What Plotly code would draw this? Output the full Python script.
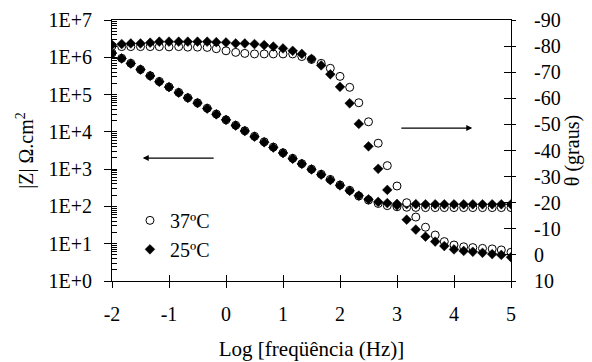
import plotly.graph_objects as go

# log10 of frequency (Hz)
log_freq = [-2.00, -1.83, -1.67, -1.50, -1.33, -1.17, -1.00, -0.83, -0.67, -0.50,
            -0.33, -0.17, 0.00, 0.17, 0.33, 0.50, 0.67, 0.83, 1.00, 1.17,
            1.33, 1.50, 1.67, 1.83, 2.00, 2.17, 2.33, 2.50, 2.67, 2.83,
            3.00, 3.17, 3.33, 3.50, 3.67, 3.83, 4.00, 4.17, 4.33, 4.50,
            4.67, 4.83, 5.00]

# |Z| (ohm.cm2)
z_37 = [1.30e6, 9.4e5, 6.9e5, 4.7e5, 3.2e5, 2.25e5, 1.6e5, 1.14e5, 8.2e4, 6.0e4,
        4.3e4, 3.0e4, 2.1e4, 1.5e4, 1.07e4, 7.6e3, 5.4e3, 3.9e3, 2.75e3, 1.95e3,
        1.4e3, 1.0e3, 730, 530, 375, 270, 190, 148, 120, 105,
        98, 95, 94, 93, 93, 93, 93, 93, 93, 93,
        93, 93, 93]
z_25 = [1.29e6, 9.3e5, 6.8e5, 4.7e5, 3.15e5, 2.2e5, 1.58e5, 1.12e5, 8.1e4, 5.9e4,
        4.2e4, 2.95e4, 2.1e4, 1.48e4, 1.05e4, 7.4e3, 5.25e3, 3.8e3, 2.7e3, 1.9e3,
        1.38e3, 980, 710, 510, 365, 263, 195, 155, 132, 123,
        117, 115, 115, 114, 114, 114, 114, 114, 114, 114,
        114, 114, 114]

# phase angle (degrees)
theta_37 = [-80.0, -79.8, -79.8, -79.8, -79.8, -79.8, -79.7, -79.8, -79.6, -79.6,
            -79.5, -79.0, -78.2, -77.6, -77.2, -77.0, -77.0, -77.0, -77.0, -77.0,
            -76.0, -74.9, -73.4, -71.5, -68.4, -64.2, -58.3, -51.0, -42.8, -34.2,
            -26.4, -20.0, -14.5, -10.6, -7.6, -5.1, -3.8, -3.1, -2.8, -2.5,
            -2.3, -1.9, -1.0]
theta_25 = [-80.5, -80.8, -81.0, -81.0, -81.3, -81.7, -81.7, -81.7, -81.7, -81.7,
            -81.7, -81.5, -81.4, -81.0, -81.0, -80.8, -80.4, -79.8, -79.1, -78.2,
            -77.0, -75.1, -72.6, -69.2, -64.4, -58.1, -50.2, -41.6, -33.0, -24.9,
            -19.0, -13.5, -9.7, -7.0, -5.1, -3.4, -2.1, -1.5, -1.2, -0.8,
            -0.3, 0.0, 0.9]

x_ticks = [-2, -1, 0, 1, 2, 3, 4, 5]
x_ticktext = ["-2", "-1", "0", "1", "2", "3", "4", "5"]
z_ticks = [1, 10, 100, 1e3, 1e4, 1e5, 1e6, 1e7]
z_ticktext = ["1E+0", "1E+1", "1E+2", "1E+3", "1E+4", "1E+5", "1E+6", "1E+7"]
th_ticks = [-90, -80, -70, -60, -50, -40, -30, -20, -10, 0, 10]
th_ticktext = ["-90", "-80", "-70", "-60", "-50", "-40", "-30", "-20", "-10", "0", "10"]
z_minor = [m * 10 ** e for e in range(7) for m in range(2, 10)]

FONT = "'Liberation Serif', 'Times New Roman', Times, serif"
FS = 20

circle = dict(symbol="circle", size=8, color="white", line=dict(color="black", width=1))
diamond = dict(symbol="diamond", size=7.5, color="black", line=dict(color="black", width=0.5))

fig = go.Figure()
fig.add_trace(go.Scatter(x=log_freq, y=z_37, mode="markers", marker=circle,
                         name="37ºC", legendgroup="a", showlegend=True, yaxis="y"))
fig.add_trace(go.Scatter(x=log_freq, y=theta_37, mode="markers", marker=circle,
                         name="37ºC", legendgroup="a", showlegend=False, yaxis="y2"))
fig.add_trace(go.Scatter(x=log_freq, y=z_25, mode="markers", marker=diamond,
                         name="25ºC", legendgroup="b", showlegend=True, yaxis="y"))
fig.add_trace(go.Scatter(x=log_freq, y=theta_25, mode="markers", marker=diamond,
                         name="25ºC", legendgroup="b", showlegend=False, yaxis="y2"))
# empty traces so the overlay tick axes get drawn
fig.add_trace(go.Scatter(x=[], y=[], xaxis="x2", yaxis="y3", showlegend=False))
fig.add_trace(go.Scatter(x=[], y=[], xaxis="x2", yaxis="y4", showlegend=False))

axis_common = dict(showgrid=False, zeroline=False, color="black", automargin=False,
                   tickfont=dict(family=FONT, size=FS, color="black"))

fig.update_layout(
    width=592, height=362,
    margin=dict(l=112, r=81, t=20, b=81),
    paper_bgcolor="white", plot_bgcolor="white",
    font=dict(family=FONT, size=FS, color="black"),
    xaxis=dict(range=[-2, 5], tickmode="array", tickvals=x_ticks, ticktext=x_ticktext,
               ticks="outside", ticklen=6, tickwidth=1, showline=True, linewidth=1,
               linecolor="black", mirror=True, ticklabelstandoff=9,
               title=dict(text="Log [freqüência (Hz)]", font=dict(family=FONT, size=21), standoff=17),
               **axis_common),
    xaxis2=dict(range=[-2, 5], overlaying="x", anchor="y", side="bottom",
                tickmode="array", tickvals=x_ticks, ticks="inside", ticklen=6, tickwidth=1,
                showticklabels=False, showline=False, **axis_common),
    yaxis=dict(type="log", range=[0, 7], tickmode="array", tickvals=z_ticks, ticktext=z_ticktext,
               ticks="outside", ticklen=7, tickwidth=1, showline=True, linewidth=1,
               linecolor="black", ticklabelstandoff=8,
               minor=dict(tickmode="array", tickvals=z_minor, ticks="inside", ticklen=5,
                          tickwidth=1, tickcolor="black", showgrid=False),
               title=dict(text="|Z| Ω.cm<sup>2</sup>", font=dict(family=FONT, size=FS), standoff=9),
               **axis_common),
    yaxis3=dict(type="log", range=[0, 7], overlaying="y", anchor="x", side="left",
                tickmode="array", tickvals=z_ticks, ticks="inside", ticklen=5, tickwidth=1,
                showticklabels=False, showline=False, **axis_common),
    yaxis2=dict(range=[10, -90], overlaying="y", anchor="x", side="right",
                tickmode="array", tickvals=th_ticks, ticktext=th_ticktext,
                ticks="outside", ticklen=4, tickwidth=1, showline=True, linewidth=1,
                linecolor="black", ticklabelstandoff=14,
                title=dict(text="θ (graus)", font=dict(family=FONT, size=FS), standoff=5),
                **axis_common),
    yaxis4=dict(range=[10, -90], overlaying="y", anchor="x", side="right",
                tickmode="array", tickvals=th_ticks, ticks="inside", ticklen=7, tickwidth=1,
                showticklabels=False, showline=False, **axis_common),
    legend=dict(x=0.045, y=0.307, xanchor="left", yanchor="top", bgcolor="rgba(0,0,0,0)",
                font=dict(family=FONT, size=FS, color="black"), tracegroupgap=0,
                itemsizing="trace"),
    showlegend=True,
)

fig.add_annotation(x=-1.46, y=0.471, xref="x", yref="paper", ax=-0.19, ay=0,
                   axref="x", ayref="pixel", showarrow=True, arrowhead=2, arrowsize=1,
                   arrowwidth=1.2, arrowcolor="black", text="")
fig.add_annotation(x=4.32, y=0.586, xref="x", yref="paper", ax=3.05, ay=0,
                   axref="x", ayref="pixel", showarrow=True, arrowhead=2, arrowsize=1,
                   arrowwidth=1.2, arrowcolor="black", text="")

fig.write_html("out.html", config={"displayModeBar": False},
               post_script="document.body.style.margin='0px';")
